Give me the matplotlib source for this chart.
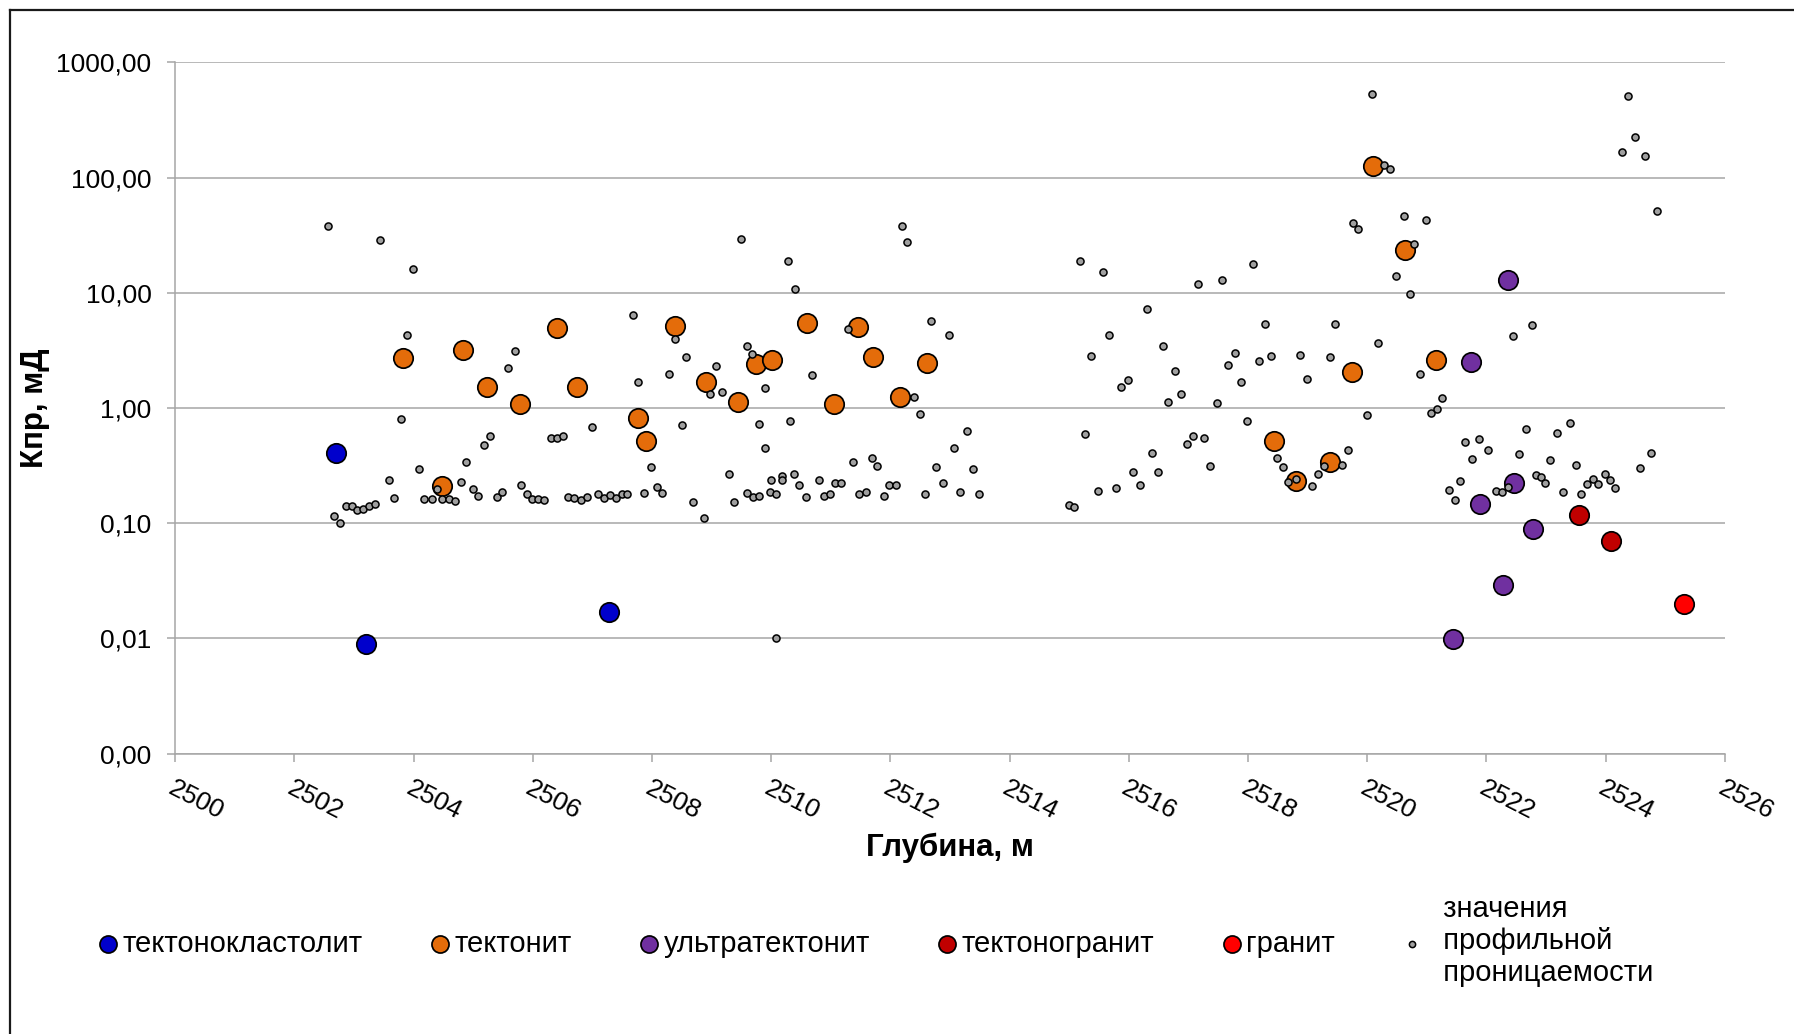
import numpy as np
import matplotlib.pyplot as plt
from matplotlib.lines import Line2D
from matplotlib.ticker import FixedLocator, FuncFormatter, NullLocator

plt.rcParams['font.family'] = ['Liberation Sans', 'DejaVu Sans']

# тектонокластолит
depth_tk = [2502.70, 2503.20, 2507.28]
kpr_tk = [0.41, 0.0089, 0.017]

# тектонит
depth_t = [2503.82, 2504.47, 2504.83, 2505.24, 2505.79, 2506.41, 2506.74, 2507.76,
           2507.90, 2508.38, 2508.90, 2509.45, 2509.75, 2510.01, 2510.61, 2511.06,
           2511.45, 2511.71, 2512.17, 2512.61, 2518.43, 2518.80, 2519.38, 2519.75,
           2520.09, 2520.63, 2521.16]
kpr_t = [2.7, 0.21, 3.17, 1.51, 1.08, 4.93, 1.51, 0.82,
         0.517, 5.2, 1.68, 1.12, 2.4, 2.6, 5.45, 1.08,
         5.06, 2.79, 1.24, 2.46, 0.516, 0.231, 0.337, 2.04,
         127.0, 23.3, 2.6]

# ультратектонит
depth_ut = [2521.44, 2521.74, 2521.89, 2522.28, 2522.37, 2522.47, 2522.78]
kpr_ut = [0.0099, 2.53, 0.146, 0.029, 13.0, 0.224, 0.09]

# тектоногранит
depth_tg = [2523.55, 2524.09]
kpr_tg = [0.119, 0.0697]

# гранит
depth_g = [2525.31]
kpr_g = [0.0199]

# значения профильной проницаемости
depth_prof = [
    2502.57, 2502.66, 2502.76, 2502.86, 2502.96, 2503.06, 2503.16, 2503.25, 2503.36, 2503.44,
    2503.59, 2503.68, 2503.79, 2503.89, 2503.99, 2504.09, 2504.17, 2504.31, 2504.39, 2504.48,
    2504.60, 2504.69, 2504.80, 2504.88, 2504.99, 2505.08, 2505.18, 2505.29, 2505.40, 2505.49,
    2505.59, 2505.70, 2505.81, 2505.90, 2505.99, 2506.09, 2506.19, 2506.30, 2506.40, 2506.50,
    2506.60, 2506.69, 2506.81, 2506.91, 2506.99, 2507.10, 2507.20, 2507.29, 2507.40, 2507.49,
    2507.58, 2507.68, 2507.76, 2507.87, 2507.98, 2508.08, 2508.17, 2508.28, 2508.39, 2508.50,
    2508.58, 2508.69, 2508.88, 2508.97, 2509.08, 2509.18, 2509.29, 2509.38, 2509.50, 2509.59,
    2509.59, 2509.68, 2509.70, 2509.79, 2509.79, 2509.90, 2509.90, 2509.98, 2510.00, 2510.08,
    2510.09, 2510.19, 2510.19, 2510.28, 2510.31, 2510.38, 2510.40, 2510.47, 2510.58, 2510.69,
    2510.80, 2510.88, 2510.99, 2511.07, 2511.18, 2511.29, 2511.37, 2511.48, 2511.59, 2511.70,
    2511.78, 2511.89, 2511.97, 2512.09, 2512.20, 2512.28, 2512.39, 2512.49, 2512.58, 2512.69,
    2512.77, 2512.88, 2512.99, 2513.07, 2513.17, 2513.29, 2513.38, 2513.48,
    2514.99, 2515.08, 2515.18, 2515.26, 2515.37, 2515.48, 2515.56, 2515.67, 2515.78, 2515.87,
    2515.98, 2516.08, 2516.19, 2516.30, 2516.39, 2516.49, 2516.58, 2516.66, 2516.77, 2516.88,
    2516.98, 2517.07, 2517.16, 2517.26, 2517.37, 2517.48, 2517.56, 2517.67, 2517.78, 2517.88,
    2517.99, 2518.08, 2518.19, 2518.28, 2518.38, 2518.49, 2518.58, 2518.68, 2518.80, 2518.88,
    2518.99, 2519.07, 2519.18, 2519.27, 2519.37, 2519.46, 2519.57, 2519.68, 2519.76, 2519.85,
    2519.99, 2520.08, 2520.19, 2520.29, 2520.39, 2520.49, 2520.62, 2520.72, 2520.79, 2520.88,
    2520.98, 2521.07, 2521.18, 2521.26, 2521.37, 2521.47, 2521.56, 2521.65, 2521.76, 2521.87,
    2522.03, 2522.17, 2522.27, 2522.36, 2522.44, 2522.55, 2522.66, 2522.76, 2522.84, 2522.91,
    2522.98, 2523.07, 2523.18, 2523.29, 2523.41, 2523.50, 2523.58, 2523.69, 2523.79, 2523.87,
    2523.99, 2524.08, 2524.16, 2524.27, 2524.38, 2524.49, 2524.57, 2524.66, 2524.77, 2524.87]
kpr_prof = [
    38.0, 0.115, 0.100, 0.142, 0.142, 0.130, 0.133, 0.140, 0.146, 29.0,
    0.235, 0.165, 0.81, 4.3, 16.2, 0.296, 0.161, 0.163, 0.199, 0.163,
    0.163, 0.155, 0.229, 0.337, 0.198, 0.174, 0.48, 0.575, 0.168, 0.186,
    2.24, 3.13, 0.214, 0.178, 0.163, 0.163, 0.160, 0.552, 0.552, 0.575,
    0.169, 0.164, 0.158, 0.168, 0.69, 0.180, 0.164, 0.177, 0.164, 0.178,
    0.178, 6.44, 1.69, 0.183, 0.305, 0.207, 0.183, 1.98, 3.96, 0.71,
    2.76, 0.152, 0.111, 1.32, 2.30, 1.39, 0.267, 0.152, 29.1, 3.48,
    0.183, 2.97, 0.168, 0.726, 0.173, 1.49, 0.449, 0.186, 0.235, 0.010,
    0.181, 0.258, 0.235, 18.8, 0.77, 0.267, 10.8, 0.216, 0.168, 1.92,
    0.235, 0.173, 0.181, 0.223, 0.223, 4.83, 0.337, 0.178, 0.186, 0.365,
    0.311, 0.173, 0.213, 0.213, 37.7, 27.7, 1.25, 0.893, 0.178, 5.67,
    0.305, 0.223, 4.29, 0.446, 0.186, 0.627, 0.296, 0.178,
    0.145, 0.137, 18.9, 0.594, 2.83, 0.192, 15.3, 4.29, 0.203, 1.52,
    1.74, 0.276, 0.213, 7.3, 0.404, 0.281, 3.48, 1.13, 2.09, 1.32,
    0.483, 0.567, 11.9, 0.552, 0.313, 1.10, 12.9, 2.37, 2.99, 1.69,
    0.77, 17.9, 2.56, 5.38, 2.83, 0.365, 0.305, 0.229, 0.243, 2.89,
    1.79, 0.211, 0.268, 0.313, 2.76, 5.38, 0.321, 0.434, 40.5, 35.7,
    0.87, 527.0, 3.65, 128.0, 119.0, 13.9, 46.4, 9.68, 26.4, 1.98,
    42.8, 0.91, 0.985, 1.21, 0.196, 0.160, 0.231, 0.509, 0.362, 0.534,
    0.434, 0.192, 0.185, 0.206, 4.25, 0.396, 0.656, 5.24, 0.262, 0.250,
    0.224, 0.355, 0.606, 0.187, 0.745, 0.321, 0.181, 0.218, 0.241, 0.217,
    0.268, 0.235, 0.202, 166.0, 515.0, 227.0, 0.303, 154.0, 0.404, 51.0]

y_ticks = [0.001, 0.01, 0.1, 1, 10, 100, 1000]
x_ticks = list(range(2500, 2527, 2))

fig = plt.figure(figsize=(17.94, 10.34), dpi=100)
ax = fig.add_axes([0.0976, 0.2711, 0.8638, 0.6686])

big = dict(s=195, edgecolors='black', linewidths=1.25, zorder=3)
ax.scatter(depth_tk, kpr_tk, color='#0000CC', label='тектонокластолит', **big)
ax.scatter(depth_t, kpr_t, color='#E46C0A', label='тектонит', **big)
ax.scatter(depth_ut, kpr_ut, color='#7030A0', label='ультратектонит', **big)
ax.scatter(depth_tg, kpr_tg, color='#C00000', label='тектоногранит', **big)
ax.scatter(depth_g, kpr_g, color='#FF0000', label='гранит', **big)
ax.scatter(depth_prof, kpr_prof, color='#A0A0A0', edgecolors='black', s=26,
           linewidths=1.1, zorder=4,
           label='  значения\n  профильной\n  проницаемости')

ax.set_yscale('log')
ax.set_ylim(0.001, 1000)
ax.set_xlim(2500, 2526)
ax.yaxis.set_major_locator(FixedLocator(y_ticks))
ax.yaxis.set_minor_locator(NullLocator())
ax.yaxis.set_major_formatter(FuncFormatter(lambda v, p: f"{v:.2f}".replace('.', ',')))
ax.set_xticks(x_ticks)
ax.xaxis.set_minor_locator(NullLocator())

ax.grid(axis='y', color='#A6A6A6', linewidth=1.1)
ax.set_axisbelow(True)
for side in ['top', 'right']:
    ax.spines[side].set_visible(False)
for side in ['left', 'bottom']:
    ax.spines[side].set_color('#A6A6A6')
    ax.spines[side].set_linewidth(1.1)

ax.tick_params(axis='both', direction='out', length=6, width=1.1, color='#A6A6A6',
               labelsize=19, labelcolor='black')
ax.tick_params(axis='y', pad=11)
ax.tick_params(axis='x', pad=10)
for lab in ax.get_xticklabels():
    lab.set_rotation(-27)
    lab.set_ha('left')
    lab.set_va('top')
    lab.set_rotation_mode('anchor')

ax.set_xlabel('Глубина, м', fontsize=22.5, fontweight='bold')
ax.set_ylabel('Кпр, мД', fontsize=22.5, fontweight='bold')
ax.xaxis.set_label_coords(0.5, -0.115)
ax.yaxis.set_label_coords(-0.0806, 0.5)

fig.legend(loc='center left', bbox_to_anchor=(99 / 1794, 1 - 941 / 1034), ncol=6,
           frameon=False, fontsize=21, handlelength=0.6, handletextpad=0.2,
           columnspacing=2.35, borderpad=0, borderaxespad=0, markerscale=0.88,
           scatterpoints=1)

# рамка (верх и левый край)
fig.add_artist(Line2D([10 / 1794, 1.0], [1 - 10 / 1034, 1 - 10 / 1034],
                      transform=fig.transFigure, color='#1a1a1a', linewidth=1.6))
fig.add_artist(Line2D([10 / 1794, 10 / 1794], [0.0, 1 - 10 / 1034],
                      transform=fig.transFigure, color='#1a1a1a', linewidth=1.6))

fig.savefig('out.png', dpi=100, facecolor='white')
